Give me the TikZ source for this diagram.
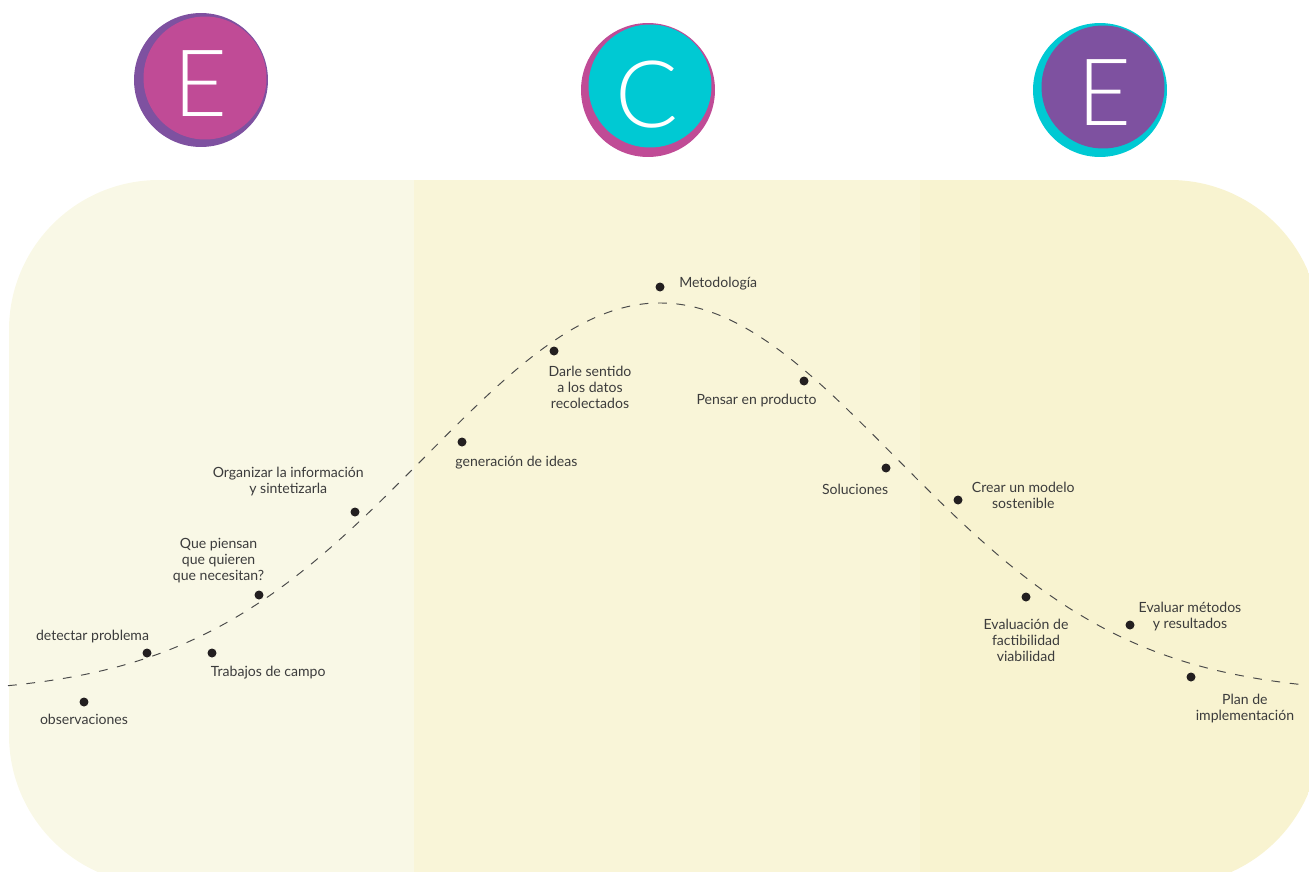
\documentclass[tikz,border=0pt]{standalone}
\usepackage{fontspec}
\setmainfont{Lato}
\IfFontExistsTF{Lato Light}{\newfontfamily\thinfont{Lato Light}}{\newfontfamily\thinfont{Lato}}
\usetikzlibrary{positioning}
\definecolor{bandA}{HTML}{F9F8E6}
\definecolor{bandB}{HTML}{F9F5D8}
\definecolor{bandC}{HTML}{F8F3D0}
\definecolor{pinkE}{HTML}{C04B96}
\definecolor{purpleE}{HTML}{7E51A0}
\definecolor{cyanE}{HTML}{00C9D3}
\definecolor{dotcol}{HTML}{231F20}
\definecolor{txtcol}{HTML}{3C3C3C}
\definecolor{curvecol}{HTML}{4A4A4A}
\tikzset{
  dot/.style={circle, fill=dotcol, inner sep=0pt, minimum size=0.18cm},
  lbl/.style={font=\fontsize{8}{9.1}\selectfont, text=txtcol, align=center, inner sep=0pt},
  ring/.style={circle, inner sep=0pt, minimum size=2.68cm},
  badge/.style={circle, inner sep=0pt, minimum size=2.46cm},
  letter/.style={font=\thinfont\fontsize{53}{53}\selectfont, text=white, inner sep=0pt},
  trend/.style={draw=curvecol, line width=0.55pt, dash pattern=on 5pt off 5.5pt}
}
\begin{document}
\begin{tikzpicture}[x=0.02cm, y=-0.02cm]
  \useasboundingbox (0,0) rectangle (1309,872);
  % rounded panel with three bands
  \begin{scope}
    \clip[rounded corners=3cm] (9,180) rectangle (1320,885);
    \fill[bandA] (0,170) rectangle (414,890);
    \fill[bandB] (414,170) rectangle (920,890);
    \fill[bandC] (920,170) rectangle (1330,890);
  \end{scope}
  % badges
  \node[ring, fill=purpleE] (r1) at (201,80) {};
  \node[badge, fill=pinkE] (b1) at (205,78) {};
  \node[letter] (e1) at (201,84) {E};
  \node[ring, fill=pinkE] (r2) at (648,90) {};
  \node[badge, fill=cyanE] (b2) at (650,86) {};
  \node[letter] (c2) at (647,95) {C};
  \node[ring, fill=cyanE] (r3) at (1100,90) {};
  \node[badge, fill=purpleE] (b3) at (1103,87) {};
  \node[letter] (e3) at (1104,93) {E};
  % dashed curve
  \draw[trend] plot[domain=0.08:13.0, samples=120, smooth]
        ({100*\x},{100*(6.94-3.91*exp(-((\x-6.6)^2)/(2*2.35^2)))});
  % steps along the curve
  \node[dot] (obs) at (84,702) {};
  \node[lbl, below=4pt of obs] (obs-t) {observaciones};
  \node[dot] (det) at (147,653) {};
  \node[lbl, above=3pt of det, xshift=-31pt] (det-t) {detectar problema};
  \node[dot] (trab) at (212,653) {};
  \node[lbl, below=4.4pt of trab, xshift=32pt] (trab-t) {Trabajos de campo};
  \node[dot] (que) at (259,595) {};
  \node[lbl, above=4pt of que, xshift=-23pt] (que-t) {Que piensan\\ que quieren\\ que necesitan?};
  \node[dot] (org) at (355,512) {};
  \node[lbl, above=6pt of org, xshift=-38pt] (org-t) {Organizar la información\\ y sintetizarla};
  \node[dot] (gen) at (462,442) {};
  \node[lbl, below=5pt of gen, xshift=31pt] (gen-t) {generación de ideas};
  \node[dot] (dar) at (554,351) {};
  \node[lbl, below=5.6pt of dar, xshift=20.5pt] (dar-t) {Darle sentido\\ a los datos\\ recolectados};
  \node[dot] (met) at (660,287) {};
  \node[lbl, right=8pt of met, yshift=2pt] (met-t) {Metodología};
  \node[dot] (pen) at (804,381) {};
  \node[lbl, below=4.4pt of pen, xshift=-27pt] (pen-t) {Pensar en producto};
  \node[dot] (sol) at (886,468) {};
  \node[lbl, below=6pt of sol, xshift=-17.6pt] (sol-t) {Soluciones};
  \node[dot] (cre) at (958,500) {};
  \node[lbl, right=5pt of cre, yshift=2.6pt] (cre-t) {Crear un modelo\\ sostenible};
  \node[dot] (evf) at (1026,597) {};
  \node[lbl, below=9.6pt of evf] (evf-t) {Evaluación de\\ factibilidad\\ viabilidad};
  \node[dot] (evm) at (1130,625) {};
  \node[lbl, right=2pt of evm, yshift=4.7pt] (evm-t) {Evaluar métodos\\ y resultados};
  \node[dot] (plan) at (1191,677) {};
  \node[lbl, below=6.7pt of plan, xshift=30.7pt] (plan-t) {Plan de\\ implementación};
\end{tikzpicture}
\end{document}
